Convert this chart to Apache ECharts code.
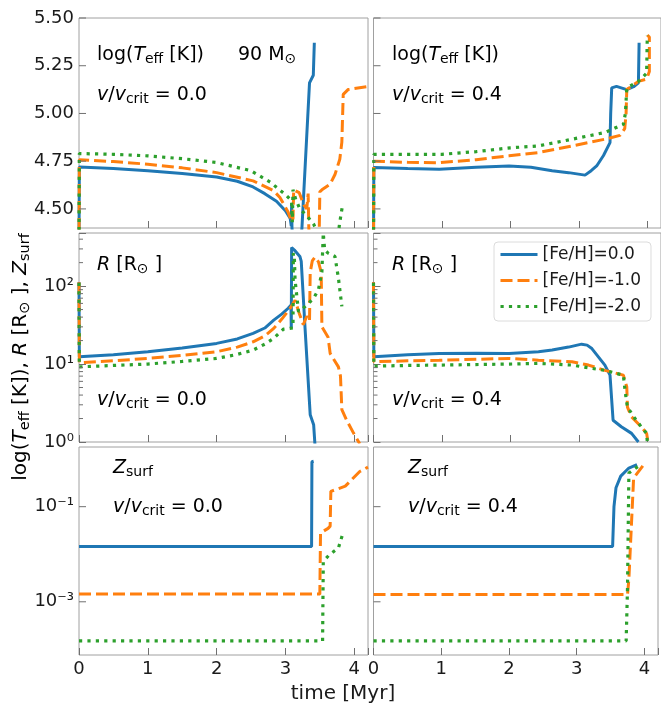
<!DOCTYPE html>
<html>
<head>
<meta charset="utf-8">
<title>90 Msun tracks</title>
<script src="https://cdn.jsdelivr.net/npm/echarts@6.0.0/dist/echarts.min.js"></script>
<style>
  html, body { margin: 0; padding: 0; background: #fff; }
  #chart { width: 661px; height: 704px; }
</style>
</head>
<body>
<div id="chart"></div>
<script>
// metallicity labels (legend)
const metalNames = ['[Fe/H]=0.0', '[Fe/H]=-1.0', '[Fe/H]=-2.0'];
const rotLabels = ['0.0', '0.4'];

// log Teff, v/vcrit = 0.0   [time Myr, log Teff]
const teffNoRotFe0 = [[0,4.3],[0.005,4.72],[0.5,4.712],[1,4.70],[1.5,4.686],[2,4.667],[2.3,4.645],[2.53,4.615],[2.7,4.58],[2.87,4.54],[3.0,4.49],[3.07,4.45],[3.085,4.41],[3.09,4.53],[3.095,4.40],[3.12,4.30],[3.2,4.25],[3.24,4.40],[3.35,5.16],[3.405,5.20],[3.42,5.37]];
const teffNoRotFe1 = [[0,4.3],[0.005,4.757],[0.5,4.748],[1,4.734],[1.5,4.715],[2,4.69],[2.53,4.647],[2.83,4.595],[2.92,4.56],[3.04,4.483],[3.09,4.43],[3.11,4.45],[3.12,4.60],[3.2,4.585],[3.27,4.52],[3.31,4.50],[3.33,4.58],[3.34,4.40],[3.37,4.25],[3.45,4.25],[3.49,4.35],[3.50,4.59],[3.53,4.60],[3.65,4.63],[3.72,4.68],[3.79,4.76],[3.82,4.85],[3.84,5.10],[3.91,5.125],[4.0,5.13],[4.18,5.14]];
const teffNoRotFe2 = [[0,4.3],[0.005,4.79],[0.5,4.786],[1,4.778],[1.5,4.763],[2,4.743],[2.5,4.70],[2.78,4.64],[2.87,4.613],[2.99,4.578],[3.09,4.543],[3.10,4.43],[3.11,4.60],[3.15,4.55],[3.21,4.50],[3.31,4.465],[3.41,4.42],[3.5,4.35],[3.65,4.25],[3.76,4.35],[3.79,4.43],[3.83,4.52]];

// log Teff, v/vcrit = 0.4
const teffRotFe0 = [[0,4.3],[0.005,4.717],[0.5,4.712],[0.96,4.708],[1.5,4.718],[1.98,4.725],[2.3,4.718],[2.61,4.70],[2.85,4.69],[3.09,4.677],[3.18,4.70],[3.26,4.725],[3.36,4.78],[3.455,4.847],[3.465,5.0],[3.48,5.134],[3.55,5.142],[3.63,5.133],[3.70,5.125],[3.80,5.14],[3.87,5.16],[3.88,5.37]];
const teffRotFe1 = [[0,4.3],[0.005,4.75],[0.5,4.744],[0.96,4.742],[1.5,4.758],[1.98,4.778],[2.41,4.795],[2.9,4.83],[3.38,4.865],[3.6,4.885],[3.67,4.92],[3.69,5.0],[3.70,5.125],[3.87,5.168],[3.99,5.18],[4.03,5.22],[4.03,5.40],[4.0,5.41]];
const teffRotFe2 = [[0,4.3],[0.005,4.786],[0.5,4.786],[1,4.786],[1.5,4.80],[2,4.82],[2.41,4.83],[2.9,4.865],[3.38,4.90],[3.6,4.935],[3.65,4.943],[3.68,5.0],[3.70,5.134],[3.87,5.168],[3.99,5.21],[4.0,5.41]];

// radius [Rsun], v/vcrit = 0.0
const radNoRotFe0 = [[0,113],[0.005,12.4],[0.5,13.2],[1,14.4],[1.5,16.1],[2,18.4],[2.3,21],[2.53,24.7],[2.7,29],[2.83,36.6],[2.95,44],[3.04,52],[3.08,57],[3.085,29],[3.09,313],[3.13,290],[3.21,240],[3.23,207],[3.285,29],[3.36,2.24],[3.41,1.67],[3.43,0.9]];
const radNoRotFe1 = [[0,112],[0.005,10.4],[0.5,11.0],[1,11.8],[1.5,12.9],[2,14.4],[2.3,16.5],[2.53,19.3],[2.7,23],[2.83,28.7],[2.95,38],[3.07,52],[3.14,66],[3.2,45],[3.26,32],[3.31,41],[3.35,36],[3.36,150],[3.39,210],[3.43,235],[3.48,205],[3.52,150],[3.53,30],[3.62,22],[3.65,13.7],[3.77,9.2],[3.80,7],[3.82,2.6],[3.89,1.9],[3.99,1.3],[4.08,0.95]];
const radNoRotFe2 = [[0,110],[0.005,9.2],[0.5,9.6],[1,10],[1.5,10.8],[2,11.8],[2.3,13.3],[2.53,15.1],[2.7,18],[2.83,21.4],[2.97,28],[3.11,29],[3.115,265],[3.13,230],[3.14,120],[3.19,47],[3.29,55],[3.41,70],[3.48,90],[3.53,153],[3.55,480],[3.57,290],[3.62,265],[3.72,240],[3.77,127],[3.82,55]];

// radius [Rsun], v/vcrit = 0.4
const radRotFe0 = [[0,113],[0.005,12.4],[0.5,13.2],[0.96,13.7],[1.5,13.8],[1.98,13.7],[2.41,14.4],[2.61,15.1],[2.85,16.5],[3.04,18],[3.12,17.5],[3.19,15.8],[3.38,9.7],[3.455,7.2],[3.50,1.9],[3.62,1.57],[3.77,1.29],[3.87,1.0]];
const radRotFe1 = [[0,112],[0.005,10.7],[0.5,11.0],[0.96,11.2],[1.98,11.8],[2.41,11.2],[2.9,10.7],[3.14,9.7],[3.38,8.3],[3.55,7.6],[3.65,7.2],[3.70,5.1],[3.71,2.8],[3.77,2.1],[3.91,1.57],[3.99,1.29],[4.01,1.0]];
const radRotFe2 = [[0,110],[0.005,9.4],[0.5,9.6],[0.96,9.7],[1.98,10.0],[2.41,10.2],[2.9,9.7],[3.19,8.8],[3.38,8.3],[3.65,7.2],[3.68,4.2],[3.71,2.8],[3.82,2.0],[3.91,1.57],[3.99,1.29],[4.0,1.0]];

// surface metallicity, v/vcrit = 0.0
const zNoRotFe0 = [[0,0.0145],[3.38,0.0145],[3.385,0.88],[3.41,0.90]];
const zNoRotFe1 = [[0,0.00145],[3.50,0.00145],[3.51,0.028],[3.62,0.035],[3.65,0.039],[3.66,0.21],[3.87,0.27],[4.08,0.55],[4.2,0.68]];
const zNoRotFe2 = [[0,0.00015],[3.54,0.00015],[3.55,0.0071],[3.64,0.0098],[3.77,0.0135],[3.84,0.029]];

// surface metallicity, v/vcrit = 0.4
const zRotFe0 = [[0,0.0145],[3.53,0.0145],[3.55,0.1],[3.58,0.25],[3.65,0.44],[3.77,0.65],[3.89,0.77]];
const zRotFe1 = [[0,0.00142],[3.75,0.00142],[3.77,0.003],[3.84,0.40],[3.99,0.77]];
const zRotFe2 = [[0,0.00015],[3.73,0.00015],[3.75,0.002],[3.77,0.51],[3.91,0.71]];

// axis ticks
const timeTicks = [0, 1, 2, 3, 4];
const teffTicks = [4.5, 4.75, 5.0, 5.25, 5.5];
const radMinorTicks = [2,3,4,5,6,7,8,9,20,30,40,50,60,70,80,90,200,300,400];
const zMajorTicks = [0.1, 0.001];

const FONT = 'DejaVu Sans';
const INK = '#1a1a1a';
const SPINE = '#a0a0a0';
const TICK = '#707070';

const styles = [
  { color: '#1f77b4', width: 3, type: 'solid' },
  { color: '#ff7f0e', width: 3, type: [12, 5], cap: 'butt' },
  { color: '#2ca02c', width: 3.2, type: [3.2, 5.2], cap: 'butt' }
];

const panels = [
  [teffNoRotFe0, teffNoRotFe1, teffNoRotFe2], [teffRotFe0, teffRotFe1, teffRotFe2],
  [radNoRotFe0, radNoRotFe1, radNoRotFe2],    [radRotFe0, radRotFe1, radRotFe2],
  [zNoRotFe0, zNoRotFe1, zNoRotFe2],          [zRotFe0, zRotFe1, zRotFe2]
];

const colX = [79, 373.5], colW = [289, 287.5];
const rowY = [18, 233, 447], rowH = [210, 209, 208];

const supMap = { '0': '⁰', '1': '¹', '2': '²', '-1': '⁻¹', '-3': '⁻³' };
function logLabel(allowed) {
  return function (v) {
    const e = Math.log10(v), r = Math.round(e);
    if (Math.abs(e - r) > 1e-6 || allowed.indexOf(r) < 0) return '';
    return '10' + supMap[String(r)];
  };
}

function tickSeries(k, vals, len) {
  return {
    type: 'custom', xAxisIndex: k, yAxisIndex: k, silent: true, animation: false, z: 5,
    data: vals.map(v => [0, v]),
    renderItem: (params, api) => {
      const p = api.coord([0, api.value(1)]);
      return { type: 'line', shape: { x1: p[0], y1: p[1], x2: p[0] + len, y2: p[1] },
               style: { stroke: TICK, lineWidth: 1 } };
    }
  };
}

const grids = [], xAxes = [], yAxes = [], series = [];
for (let row = 0; row < 3; row++) {
  for (let col = 0; col < 2; col++) {
    const k = row * 2 + col;
    grids.push({
      left: colX[col], top: rowY[row], width: colW[col], height: rowH[row],
      show: true, borderColor: SPINE, borderWidth: 1, backgroundColor: 'transparent'
    });
    xAxes.push({
      type: 'value', gridIndex: k, min: 0, max: 4.2, interval: 1,
      axisLine: { show: false },
      axisTick: { show: true, inside: true, length: 7, lineStyle: { color: TICK, width: 1 } },
      splitLine: { show: false },
      axisLabel: {
        show: row === 2, margin: 5, fontSize: 18, fontFamily: FONT, color: INK,
        formatter: v => (timeTicks.indexOf(v) >= 0 ? String(v) : '')
      }
    });
    const yBase = {
      gridIndex: k,
      axisLine: { show: false },
      splitLine: { show: false },
      axisTick: { show: true, inside: true, length: 7, lineStyle: { color: TICK, width: 1 } },
      axisLabel: { show: col === 0, margin: 5, fontSize: 18, fontFamily: FONT, color: INK }
    };
    if (row === 0) {
      // 4.4 is a multiple of 0.05; labels kept only at multiples of 0.25
      yAxes.push(Object.assign({}, yBase, {
        type: 'value', min: 4.4, max: 5.5, interval: 0.05,
        axisTick: { show: false },
        axisLabel: Object.assign({}, yBase.axisLabel, {
          formatter: v => (Math.abs(v * 4 - Math.round(v * 4)) < 1e-6 ? (Math.round(v * 4) / 4).toFixed(2) : '')
        })
      }));
    } else if (row === 1) {
      yAxes.push(Object.assign({}, yBase, {
        type: 'log', logBase: 10, min: 1, max: 480,
        axisLabel: Object.assign({}, yBase.axisLabel, { formatter: logLabel([0, 1, 2]) })
      }));
    } else {
      yAxes.push(Object.assign({}, yBase, {
        type: 'log', logBase: 10, min: 7.6e-5, max: 1.8,
        axisTick: { show: false },
        axisLabel: Object.assign({}, yBase.axisLabel, { formatter: logLabel([-1, -3]) })
      }));
    }
    panels[k].forEach((data, j) => {
      series.push({
        type: 'line', name: metalNames[j], data: data,
        xAxisIndex: k, yAxisIndex: k,
        showSymbol: false, symbol: 'none', clip: true, animation: false,
        lineStyle: styles[j], itemStyle: { color: styles[j].color },
        emphasis: { disabled: true }
      });
    });
    if (row === 0) series.push(tickSeries(k, teffTicks, 7));
    if (row === 1) series.push(tickSeries(k, radMinorTicks, 4));
    if (row === 2) series.push(tickSeries(k, zMajorTicks, 7));
  }
}

function richSet(size, sub) {
  return {
    n: { fontFamily: FONT, fontSize: size, color: INK, lineHeight: size + 4, verticalAlign: 'middle' },
    i: { fontFamily: FONT, fontSize: size, color: INK, lineHeight: size + 4, fontStyle: 'italic', verticalAlign: 'middle' },
    s: { fontFamily: FONT, fontSize: sub, color: INK, verticalAlign: 'bottom' }
  };
}
const richPanel = richSet(19, 14);
const richAxis = richSet(20, 14.5);

const teffText = '{n|log(}{i|T}{s|eff}{n| [K])}';
const radText = '{i|R}{n| [R}{s|⊙}{n| ]}';
const zText = '{i|Z}{s|surf}';
const rotText = v => '{i|v}{n|/}{i|v}{s|crit}{n| = ' + v + '}';

function label(x, y, text, rot) {
  return {
    type: 'text', x: x, y: y, rotation: rot || 0, silent: true, z: 20,
    style: { text: text, rich: rot ? richAxis : richPanel, align: rot ? 'center' : 'left', verticalAlign: 'middle' }
  };
}

const graphics = [
  label(97, 55, teffText), label(238, 55, '{n|90 M}{s|⊙}'), label(97, 95, rotText(rotLabels[0])),
  label(392, 55, teffText), label(392, 95, rotText(rotLabels[1])),
  label(97, 265, radText), label(97, 400, rotText(rotLabels[0])),
  label(392, 265, radText), label(392, 400, rotText(rotLabels[1])),
  label(113, 468, zText), label(113, 507, rotText(rotLabels[0])),
  label(408, 468, zText), label(408, 507, rotText(rotLabels[1])),
  label(21, 357, '{n|log(}{i|T}{s|eff}{n| [K]), }{i|R}{n| [R}{s|⊙}{n| ], }{i|Z}{s|surf}', Math.PI / 2),
  { type: 'text', x: 343, y: 694, silent: true,
    style: { text: 'time [Myr]', font: '20px "DejaVu Sans"', fill: INK, align: 'center', verticalAlign: 'middle' } }
];

const chart = echarts.init(document.getElementById('chart'), null, { renderer: 'canvas' });
chart.setOption({
  backgroundColor: '#fff',
  animation: false,
  grid: grids,
  xAxis: xAxes,
  yAxis: yAxes,
  series: series,
  legend: {
    data: metalNames,
    orient: 'vertical', left: 494, top: 242,
    backgroundColor: '#fff', borderColor: '#dcdcdc', borderWidth: 1, borderRadius: 4,
    padding: [4, 10, 6, 5], itemWidth: 37, itemHeight: 14, itemGap: 9,
    lineStyle: { width: 3 },
    itemStyle: { opacity: 0 },
    textStyle: { fontSize: 17, fontFamily: FONT, color: INK },
    selectedMode: false
  },
  graphic: graphics
});
</script>
</body>
</html>
